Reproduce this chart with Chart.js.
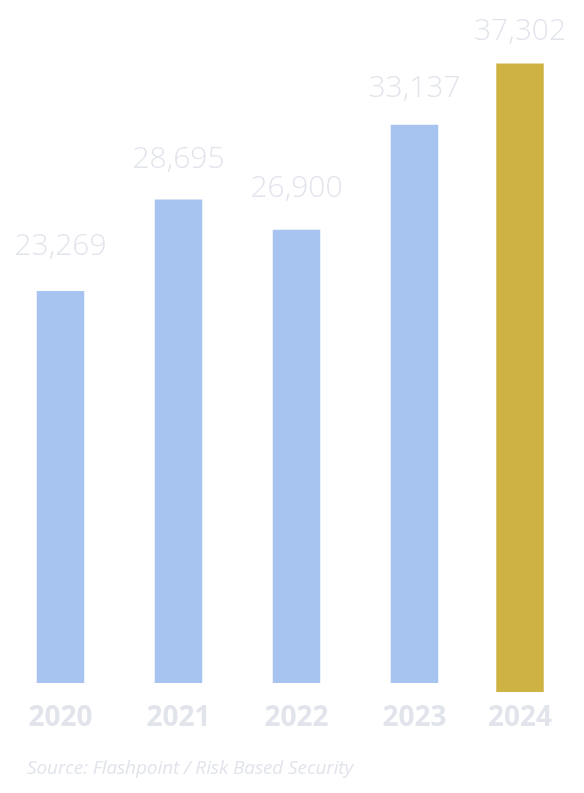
<!DOCTYPE html>
<html>
<head>
<meta charset="utf-8">
<script src="https://cdn.jsdelivr.net/npm/chart.js@4.4.1/dist/chart.umd.min.js"></script>
<style>
  html, body { margin: 0; padding: 0; background: #ffffff; }
  #wrap { position: relative; width: 584px; height: 793px; overflow: hidden; }
  #c { position: absolute; left: 0; top: 0; }
  #source { position: absolute; left: 27px; top: 754px; font-family: "Open Sans", sans-serif; font-style: italic; font-size: 19px; letter-spacing: -0.1px; color: #e2e4ec; white-space: nowrap; }
</style>
</head>
<body>
<div id="wrap">
  <canvas id="c" width="600" height="793"></canvas>
  <div id="source">Source: Flashpoint / Risk Based Security</div>
</div>
<script>
const years = ["2020", "2021", "2022", "2023", "2024"];
const baseValues = [23269, 28695, 26900, 33137, null];
const highlightValues = [null, null, null, null, 37302];
const valueLabels = ["23,269", "28,695", "26,900", "33,137", "37,302"];

const BLUE = "#a7c4f0";
const GOLD = "#cfb244";
const TEXT = "#e2e4ec";
const HL_DX = -12.5, HL_DY = 9;

const highlightShift = {
  id: "highlightShift",
  beforeDatasetDraw(chart, args) {
    if (args.index === 1) { chart.ctx.save(); chart.ctx.translate(HL_DX, HL_DY); }
  },
  afterDatasetDraw(chart, args) {
    if (args.index === 1) { chart.ctx.restore(); }
  }
};

const labelsPlugin = {
  id: "labelsPlugin",
  afterDatasetsDraw(chart) {
    const ctx = chart.ctx;
    const xs = chart.scales.x;
    const y2 = chart.scales.y2;
    ctx.save();
    ctx.fillStyle = TEXT;
    ctx.textAlign = "center";
    ctx.textBaseline = "alphabetic";
    years.forEach((yr, i) => {
      const isHL = highlightValues[i] !== null;
      const v = isHL ? highlightValues[i] : baseValues[i];
      const dx = isHL ? HL_DX : 0;
      const dy = isHL ? HL_DY : 0;
      const x = xs.getPixelForValue(i) + dx;
      ctx.font = "300 30px 'Open Sans'";
      ctx.fillText(valueLabels[i], x, y2.getPixelForValue(v) + dy);
      ctx.font = "bold 28px 'Open Sans'";
      ctx.fillText(yr, x, 726);
    });
    ctx.restore();
  }
};

new Chart(document.getElementById("c"), {
  type: "bar",
  data: {
    labels: years,
    datasets: [
      { data: baseValues, backgroundColor: BLUE, borderWidth: 0 },
      { data: highlightValues, backgroundColor: GOLD, borderWidth: 0 }
    ]
  },
  options: {
    responsive: false,
    animation: false,
    devicePixelRatio: 1,
    layout: { padding: { left: 1.5, right: 8.5, top: 9.16, bottom: 110 } },
    datasets: { bar: { grouped: false, categoryPercentage: 1, barPercentage: 0.4025 } },
    plugins: { legend: { display: false }, tooltip: { enabled: false } },
    scales: {
      x: { display: false, offset: true },
      y: { display: false, min: 0, max: 40000 },
      y2: { display: false, min: -3584, max: 38673 }
    }
  },
  plugins: [highlightShift, labelsPlugin]
});
</script>
</body>
</html>
